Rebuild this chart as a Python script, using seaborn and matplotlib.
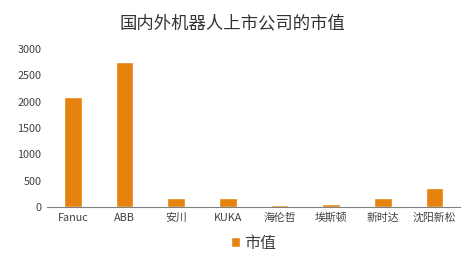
import matplotlib
matplotlib.use("Agg")
import matplotlib.pyplot as plt
import seaborn as sns
import pandas as pd

categories = ["Fanuc", "ABB", "安川", "KUKA", "海伦哲", "埃斯顿", "新时达", "沈阳新松"]
values = [2090, 2750, 170, 170, 35, 50, 170, 360]
yticks = [0, 500, 1000, 1500, 2000, 2500, 3000]
title = "国内外机器人上市公司的市值"
series_name = "市值"

sns.set_theme(style="white")
plt.rcParams['font.family'] = ['Noto Sans CJK SC', 'DejaVu Sans']

df = pd.DataFrame({"公司": categories, series_name: values})

fig = plt.figure(figsize=(4.75, 2.61), dpi=100)
ax = fig.add_axes([0.099, 0.207, 0.87, 0.605])
color = "#E6820E"
sns.barplot(data=df, x="公司", y=series_name, color=color, width=0.34, ax=ax,
            saturation=1, label=series_name)
ax.set_ylim(0, 3000)
ax.set_yticks(yticks)
ax.set_yticklabels([str(t) for t in yticks], fontsize=7.8, color="#404040")
ax.set_xticks(range(len(categories)))
ax.set_xticklabels(categories, fontsize=7.8, color="#404040")
ax.set_xlabel("")
ax.set_ylabel("")
ax.tick_params(axis="both", length=0, pad=4)
for s in ["top", "right", "left"]:
    ax.spines[s].set_visible(False)
ax.spines["bottom"].set_color("#808080")
ax.spines["bottom"].set_linewidth(0.8)
ax.set_xlim(-0.5, len(categories) - 0.5)
fig.suptitle(title, x=0.49, y=0.945, fontsize=12.5, color="#333333")
leg = ax.legend(loc="upper center", bbox_to_anchor=(0.5, -0.085), frameon=False,
                fontsize=11.5, handlelength=0.55, handleheight=0.55, handletextpad=0.3)
for t in leg.get_texts():
    t.set_color("#404040")
fig.savefig("out.png", dpi=100)
